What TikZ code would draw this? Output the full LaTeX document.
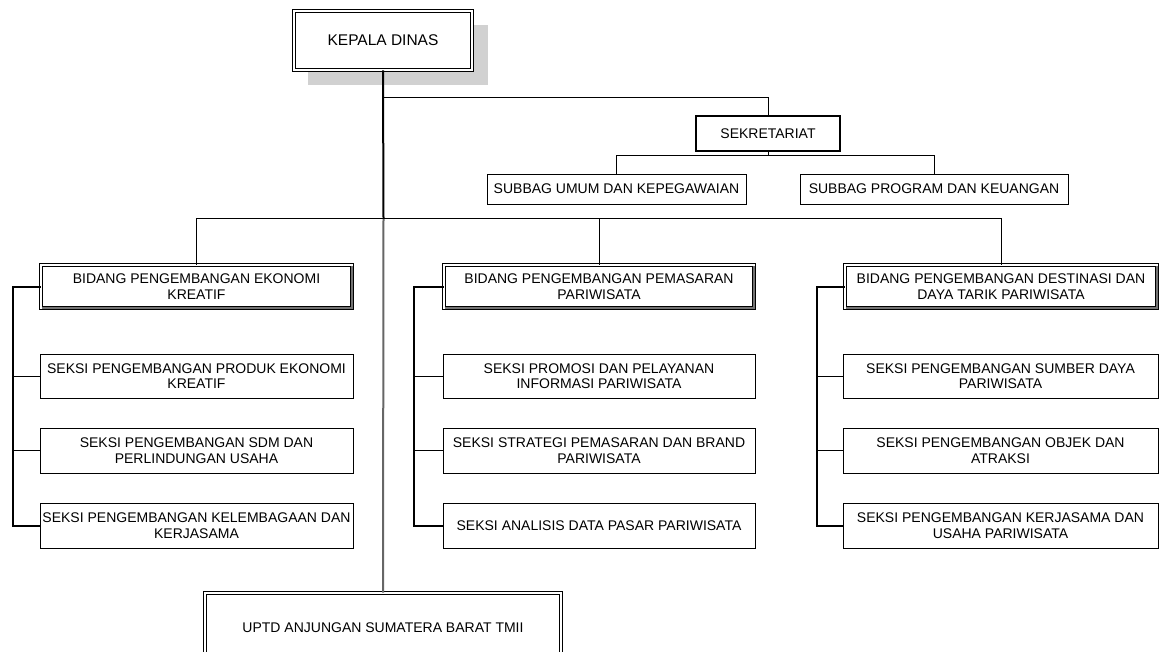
\documentclass[tikz,border=0pt]{standalone}
\usepackage{fontspec}
\setmainfont{Liberation Sans}
\begin{document}
\begin{tikzpicture}[x=1pt,y=-1pt,
  every node/.style={inner sep=0pt, align=center, font=\fontsize{14}{15.5}\selectfont},
  plainbox/.style={draw=black, line width=1pt, fill=white},
  dblbox/.style={draw=black, double=white, double distance=2pt, line width=0.7pt, fill=white},
  boldbox/.style={draw=black, line width=2.6pt, fill=white},
  conn/.style={draw=black, line width=1pt},
  tconn/.style={draw=black, line width=2pt},
  gconn/.style={draw=black!60, line width=2pt},
  shadowfill/.style={fill=black!18},
  bevel/.style={draw=black!55, line width=1.8pt}
]
\path[use as bounding box, clip] (0,0) rectangle (1160,651);

% Kepala Dinas with shadow
\node[minimum width=180pt, minimum height=61pt] (kepalaghost) at (383,40.5) {};
\fill[shadowfill] ([shift={(15,15)}]kepalaghost.north west) rectangle ([shift={(15,14)}]kepalaghost.south east);
\node[dblbox, minimum width=178pt, minimum height=59pt, font=\fontsize{15.5}{17}\selectfont] (kepala) at (383,40.5) {KEPALA DINAS};

% Sekretariat
\node[boldbox, minimum width=144pt, minimum height=35pt] (sekr) at (768,133.5) {SEKRETARIAT};
\node[plainbox, minimum width=259pt, minimum height=30pt] (subU) at (616.5,189) {SUBBAG UMUM DAN KEPEGAWAIAN};
\node[plainbox, minimum width=268pt, minimum height=30pt] (subP) at (934,189) {SUBBAG PROGRAM DAN KEUANGAN};

% Bidang
\node[dblbox, minimum width=311pt, minimum height=43pt] (bid1) at (196.5,286.5) {BIDANG PENGEMBANGAN EKONOMI\\KREATIF};
\node[dblbox, minimum width=310pt, minimum height=43pt] (bid2) at (599,286.5) {BIDANG PENGEMBANGAN PEMASARAN\\PARIWISATA};
\node[dblbox, minimum width=312pt, minimum height=43pt] (bid3) at (1001,286.5) {BIDANG PENGEMBANGAN DESTINASI DAN\\DAYA TARIK PARIWISATA};
\foreach \b in {bid1,bid2,bid3}
  \draw[bevel] ([shift={(0.9,0)}]\b.south west) -- (\b.south east) -- ([shift={(0,0.9)}]\b.north east);

% Seksi column 1
\node[plainbox, minimum width=313pt, minimum height=44pt] (s11) at (196.5,376) {SEKSI PENGEMBANGAN PRODUK EKONOMI\\KREATIF};
\node[plainbox, minimum width=313pt, minimum height=45pt] (s12) at (196.5,450.5) {SEKSI PENGEMBANGAN SDM DAN\\PERLINDUNGAN USAHA};
\node[plainbox, minimum width=313pt, minimum height=45pt] (s13) at (196.5,525.5) {SEKSI PENGEMBANGAN KELEMBAGAAN DAN\\KERJASAMA};

% Seksi column 2
\node[plainbox, minimum width=312pt, minimum height=44pt] (s21) at (599,376) {SEKSI PROMOSI DAN PELAYANAN\\INFORMASI PARIWISATA};
\node[plainbox, minimum width=312pt, minimum height=45pt] (s22) at (599,450.5) {SEKSI STRATEGI PEMASARAN DAN BRAND\\PARIWISATA};
\node[plainbox, minimum width=312pt, minimum height=45pt] (s23) at (599,525.5) {SEKSI ANALISIS DATA PASAR PARIWISATA};

% Seksi column 3
\node[plainbox, minimum width=315pt, minimum height=44pt] (s31) at (1000.5,376) {SEKSI PENGEMBANGAN SUMBER DAYA\\PARIWISATA};
\node[plainbox, minimum width=315pt, minimum height=45pt] (s32) at (1000.5,450.5) {SEKSI PENGEMBANGAN OBJEK DAN\\ATRAKSI};
\node[plainbox, minimum width=315pt, minimum height=45pt] (s33) at (1000.5,525.5) {SEKSI PENGEMBANGAN KERJASAMA DAN\\USAHA PARIWISATA};

% UPTD
\node[dblbox, minimum width=356pt, minimum height=70pt] (uptd) at (383,628) {UPTD ANJUNGAN SUMATERA BARAT TMII};

% Connectors
\coordinate (j1) at (383.5,97);
\coordinate (hub) at (383.5,218);
\draw[tconn] (kepala.south) -- (hub);
\draw[gconn] (hub) -- (uptd.north);
\draw[conn] (j1) -| (sekr.north);
\draw[conn] (sekr.south) -- ++(0,3) coordinate (sj);
\draw[conn] (sj) -| (subU.north);
\draw[conn] (sj) -| (subP.north);
\draw[conn] (hub) -| (bid1.north);
\draw[conn] (hub) -| (bid2.north);
\draw[conn] (hub) -| (bid3.north);

\draw[tconn] (bid1.west) -- ++(-28,0) coordinate (l1) |- (s13.west);
\draw[conn] (l1 |- s11.west) -- (s11.west);
\draw[conn] (l1 |- s12.west) -- (s12.west);

\draw[tconn] (bid2.west) -- ++(-30,0) coordinate (l2) |- (s23.west);
\draw[conn] (l2 |- s21.west) -- (s21.west);
\draw[conn] (l2 |- s22.west) -- (s22.west);

\draw[tconn] (bid3.west) -- ++(-28,0) coordinate (l3) |- (s33.west);
\draw[conn] (l3 |- s31.west) -- (s31.west);
\draw[conn] (l3 |- s32.west) -- (s32.west);
\end{tikzpicture}
\end{document}
